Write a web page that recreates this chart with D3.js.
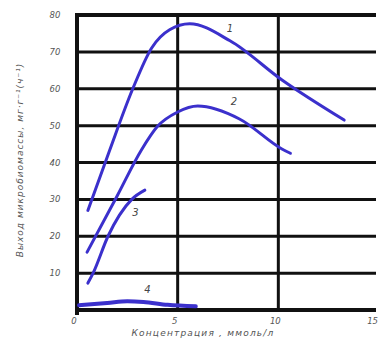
<!DOCTYPE html>
<html><head><meta charset="utf-8">
<script src="https://cdn.jsdelivr.net/npm/d3@7"></script>
<style>body{margin:0;background:#fff;} svg{display:block;}</style>
</head><body>
<svg id="c" width="378" height="347"></svg>
<script>
// Data
const curve1 = [[0.54,27.0],[1.6,43.0],[2.77,60.0],[3.7,71.0],[4.6,76.0],[5.6,77.6],[7.6,73.0],[10.2,62.3],[13.27,51.5]];
const curve2 = [[0.5,15.7],[2.0,31.0],[3.2,43.4],[4.0,49.8],[5.0,53.7],[6.0,55.3],[8.07,51.8],[10.2,43.6],[10.6,42.5]];
const curve3 = [[0.54,7.3],[0.8,10],[1.54,20],[2.72,30],[3.37,32.5]];
const curve4 = [[0.1,1.3],[1.5,1.9],[2.5,2.4],[3.3,2.2],[4.5,1.4],[5.9,1.0]];
const curveNames = ["1","2","3","4"];
const labelPos = [[7.6,75.5],[7.8,55.5],[2.9,25.5],[3.5,4.5]];
const yTicks = [10,20,30,40,50,60,70,80];
const xTicks = [0,5,10,15];
const xTitle = "Концентрация , ммоль/л";
const yTitle = "Выход микробиомассы, мг·г⁻¹(ч⁻¹)";

const svg = d3.select("#c");
const x = d3.scaleLinear().domain([0,15]).range([77,379]);
const y = d3.scaleLinear().domain([0,80]).range([310,15]);
const right = 376;

// grid
svg.append("g").selectAll("line").data(yTicks).join("line")
  .attr("x1", x(0)).attr("x2", right).attr("y1", d=>y(d)).attr("y2", d=>y(d))
  .attr("stroke","#111").attr("stroke-width", d=> d===80 ? 4 : 3);
svg.append("g").selectAll("line").data([5,10]).join("line")
  .attr("x1", d=>x(d)).attr("x2", d=>x(d)).attr("y1", y(80)).attr("y2", y(0))
  .attr("stroke","#111").attr("stroke-width",3);
// axes
svg.append("line").attr("x1",x(0)).attr("x2",x(0)).attr("y1",y(80)-2).attr("y2",y(0)+5)
  .attr("stroke","#111").attr("stroke-width",4);
svg.append("line").attr("x1",x(0)).attr("x2",right).attr("y1",y(0)).attr("y2",y(0))
  .attr("stroke","#111").attr("stroke-width",4);

// curves
const line = d3.line().x(d=>x(d[0])).y(d=>y(d[1])).curve(d3.curveMonotoneX);
[curve1,curve2,curve3,curve4].forEach((c,i)=>{
  svg.append("path").attr("d", line(c)).attr("fill","none")
    .attr("stroke","#3b30cc").attr("stroke-width", i===3 ? 4 : 3).attr("stroke-linecap","round");
});

const tf = "'DejaVu Sans', sans-serif";
// curve labels
svg.append("g").selectAll("text").data(curveNames).join("text")
  .attr("x",(d,i)=>x(labelPos[i][0])).attr("y",(d,i)=>y(labelPos[i][1]))
  .attr("font-family",tf).attr("font-size",10).attr("font-style","italic").attr("fill","#444")
  .attr("text-anchor","middle").text(d=>d);

// y tick labels
svg.append("g").selectAll("text").data(yTicks).join("text")
  .attr("x",55).attr("y",d=>y(d)+3).attr("text-anchor","middle")
  .attr("font-family",tf).attr("font-size",8.5).attr("font-style","italic").attr("fill","#555")
  .text(d=>d);
// x tick labels
svg.append("g").selectAll("text").data(xTicks).join("text")
  .attr("x",d=> d===15 ? 378 : x(d)-3).attr("y",324).attr("text-anchor",d=> d===15 ? "end" : "middle")
  .attr("font-family",tf).attr("font-size",8.5).attr("font-style","italic").attr("fill","#555")
  .text(d=>d);
// titles
svg.append("text").attr("x",203).attr("y",336).attr("text-anchor","middle")
  .attr("font-family",tf).attr("font-size",9).attr("letter-spacing",1.2).attr("font-style","italic").attr("fill","#555")
  .text(xTitle);
svg.append("text").attr("transform","translate(23,160) rotate(-90)").attr("text-anchor","middle")
  .attr("font-family",tf).attr("font-size",9).attr("letter-spacing",1).attr("font-style","italic").attr("fill","#555")
  .text(yTitle);
</script>
</body></html>
